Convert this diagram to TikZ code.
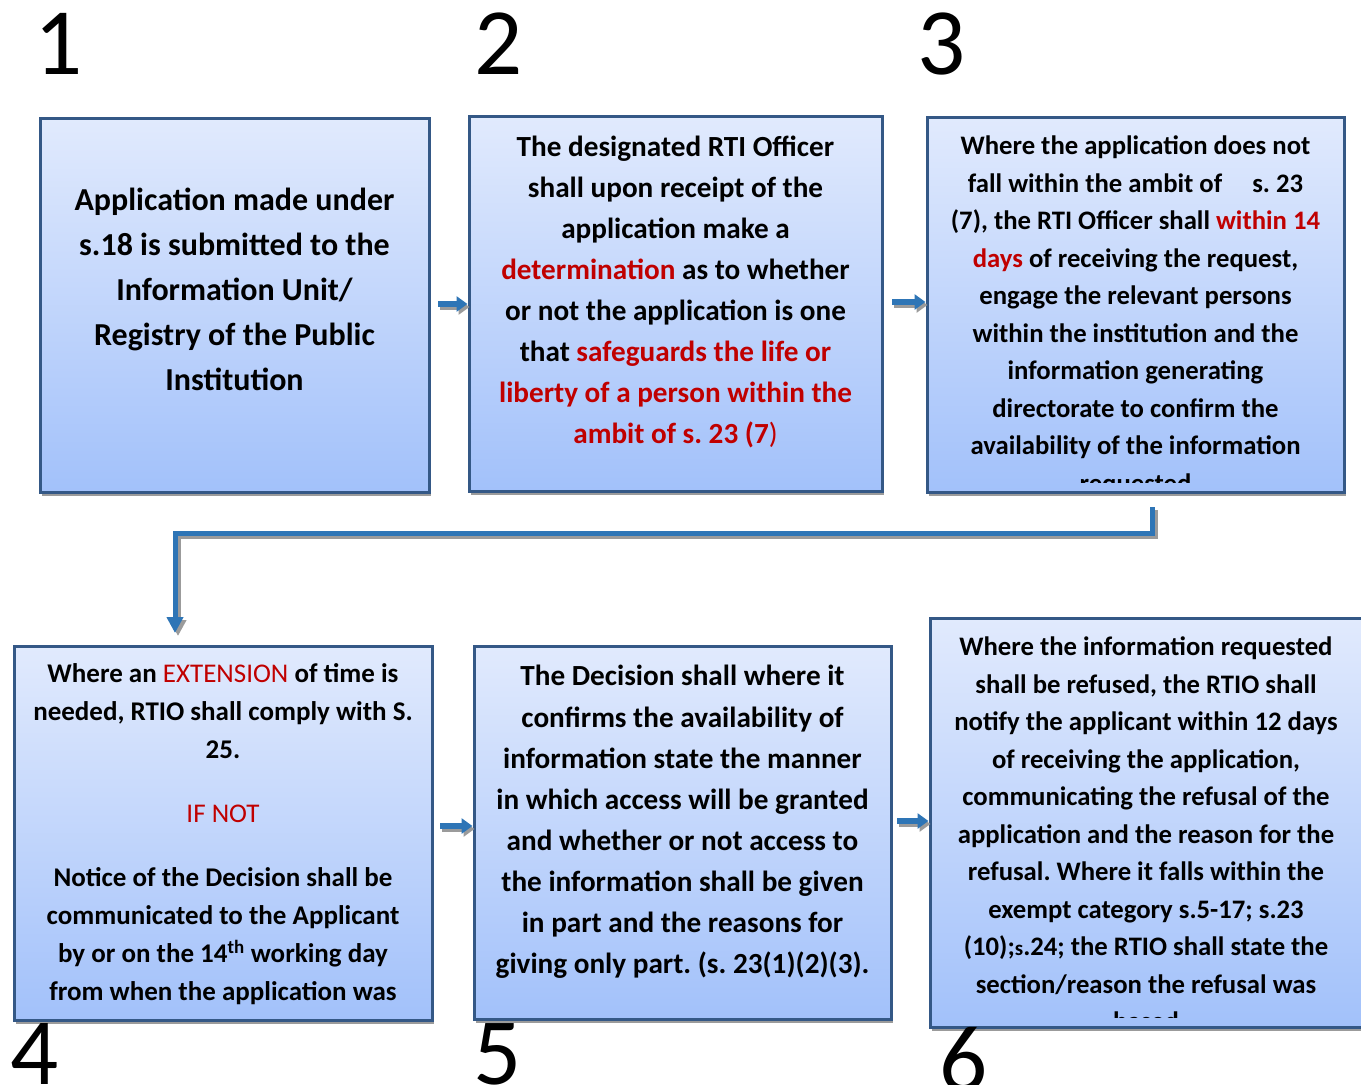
\documentclass[tikz,border=0pt]{standalone}
\usepackage{fontspec}
\setmainfont{Carlito}
\usetikzlibrary{arrows.meta,shadows,calc}
\definecolor{boxtop}{RGB}{225,234,253}
\definecolor{boxbot}{RGB}{162,193,250}
\definecolor{boxline}{RGB}{52,88,134}
\definecolor{arrowblue}{RGB}{46,117,182}
\definecolor{redtxt}{RGB}{192,0,0}
\definecolor{shadowgray}{RGB}{155,155,155}
\newcommand{\rd}[1]{\textcolor{redtxt}{#1}}
\frenchspacing
\begin{document}
\begin{tikzpicture}[x=1pt,y=-1pt,
  stepbox/.style={draw=boxline, line width=3pt, top color=boxtop, bottom color=boxbot,
    inner sep=0pt, drop shadow={shadow xshift=2pt, shadow yshift=-4pt, fill=shadowgray, opacity=1}},
  boxtext/.style={align=center, inner sep=0pt, text=black},
  numlabel/.style={anchor=base west, inner sep=0pt, font=\fontsize{95}{95}\selectfont},
  flowarrow/.style={draw=arrowblue, line width=6pt, -{Triangle[width=15pt,length=11pt]}},
  flowshadow/.style={draw=shadowgray, line width=6pt, -{Triangle[width=15pt,length=11pt]},
    transform canvas={shift={(2pt,-3pt)}}},
  connector/.style={draw=arrowblue, line width=5pt, -{Triangle[width=16pt,length=16pt]}},
  connshadow/.style={draw=shadowgray, line width=5pt, -{Triangle[width=16pt,length=16pt]},
    transform canvas={shift={(3pt,-3pt)}}},
]
\useasboundingbox (0,0) rectangle (1361,1085);
\fill[white] (0,0) rectangle (1361,1085);

% boxes
\node[stepbox, minimum width=389pt, minimum height=374pt] (box1) at (234.5,305) {};
\node[stepbox, minimum width=413pt, minimum height=375pt] (box2) at (675.5,303.5) {};
\node[stepbox, minimum width=417pt, minimum height=375pt] (box3) at (1135.5,304.5) {};
\node[stepbox, minimum width=418pt, minimum height=374pt] (box4) at (223,833) {};
\node[stepbox, minimum width=417pt, minimum height=373pt] (box5) at (682.5,832.5) {};
\node[stepbox, minimum width=436pt, minimum height=409pt] (box6) at (1148,822.5) {};

% texts
\node[boxtext, font=\bfseries\fontsize{32}{45}\selectfont] (t1) at (234.5,289)
  {Application made under\\ s.18 is submitted to the\\ Information Unit/\\ Registry of the Public\\ Institution};

\node[boxtext, font=\bfseries\fontsize{29.2}{41.1}\selectfont] (t2) at (675.5,292)
  {The designated RTI Officer\\ shall upon receipt of the\\ application make a\\
   \rd{determination} as to whether\\ or not the application is one\\
   that \rd{safeguards the life or}\\ \rd{liberty of a person within the}\\
   \rd{ambit of s. 23 (7{\mdseries)}}};

\begin{scope}
  \clip (927,117) rectangle (1344,482);
  \node[boxtext, font=\bfseries\fontsize{26.7}{37.5}\selectfont] (t3) at (1135.5,316)
    {Where the application does not\\ fall within the ambit of\hspace{24pt} s. 23\\
     (7), the RTI Officer shall \rd{within 14}\\ \rd{days} of receiving the request,\\
     engage the relevant persons\\ within the institution and the\\
     information generating\\ directorate to confirm the\\
     availability of the information\\ requested};
\end{scope}

\node[boxtext, font=\bfseries\fontsize{27}{38}\selectfont] (t4) at (223,834)
  {Where an \rd{\mdseries EXTENSION} of time is\\ needed, RTIO shall comply with S.\\ 25.\\[26pt]
   \rd{\mdseries IF NOT}\\[26pt]
   Notice of the Decision shall be\\ communicated to the Applicant\\
   by or on the 14\textsuperscript{th} working day\\ from when the application was};

\node[boxtext, font=\bfseries\fontsize{29.2}{41.1}\selectfont] (t5) at (682.5,822)
  {The Decision shall where it\\ confirms the availability of\\ information state the manner\\
   in which access will be granted\\ and whether or not access to\\
   the information shall be given\\ in part and the reasons for\\
   giving only part. (s. 23(1)(2)(3).};

\begin{scope}
  \clip (930,618) rectangle (1361,1017);
  \node[boxtext, font=\bfseries\fontsize{26.7}{37.5}\selectfont] (t6) at (1146,834)
    {Where the information requested\\ shall be refused, the RTIO shall\\
     notify the applicant within 12 days\\ of receiving the application,\\
     communicating the refusal of the\\ application and the reason for the\\
     refusal. Where it falls within the\\ exempt category s.5-17; s.23\\
     (10);{\fontsize{21}{21}\selectfont s}.24; the RTIO shall state the\\
     section/reason the refusal was\\ based};
\end{scope}

% numbers
\node[numlabel] (n1) at (34,74) {1};
\node[numlabel] (n2) at (474,74) {2};
\node[numlabel] (n3) at (917,74) {3};
\node[numlabel] (n4) at (10,1084) {4};
\node[numlabel] (n5) at (473,1084) {5};
\node[numlabel] (n6) at (939,1091) {6};

% small arrows
\coordinate (a12) at (438,304);
\coordinate (a23) at (892,302);
\coordinate (a45) at (440,826);
\coordinate (a56) at (897,821);
\draw[flowshadow] (a12) -- (a12 -| box2.west);
\draw[flowarrow] (a12) -- (a12 -| box2.west);
\draw[flowshadow] (a23) -- (a23 -| box3.west);
\draw[flowarrow] (a23) -- (a23 -| box3.west);
\draw[flowshadow] (a45) -- (a45 -| box5.west);
\draw[flowarrow] (a45) -- (a45 -| box5.west);
\draw[flowshadow] (a56) -- (a56 -| box6.west);
\draw[flowarrow] (a56) -- (a56 -| box6.west);

% connector from box 3 to box 4
\coordinate (c3) at (1152,507);
\coordinate (c4) at (175,633);
\coordinate (k3) at (1152,533);
\coordinate (k4) at (175,533);
\draw[connshadow] (c3) -- (k3) -- (k4) -- (c4);
\draw[connector] (c3) -- (k3) -- (k4) -- (c4);
\end{tikzpicture}
\end{document}
